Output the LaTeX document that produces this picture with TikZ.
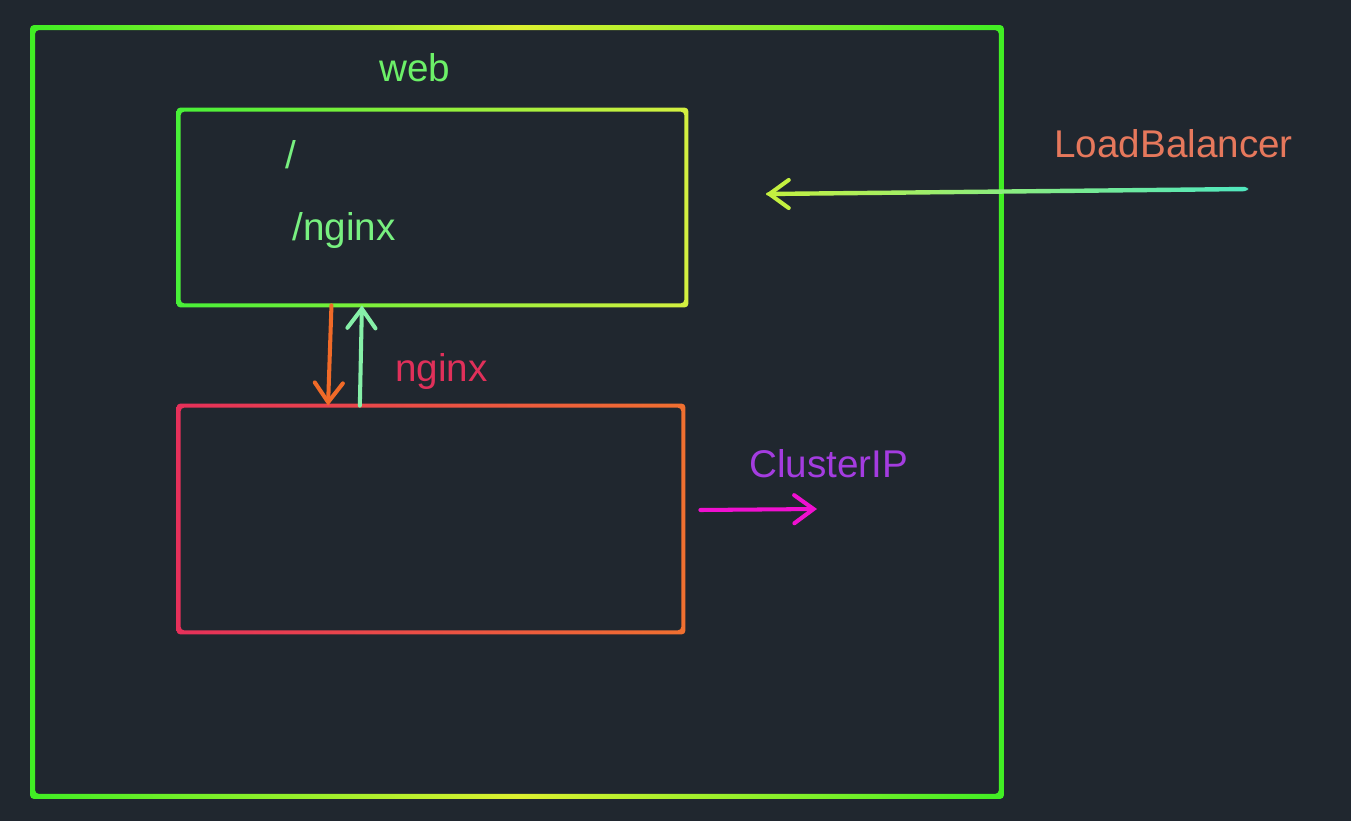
\documentclass[tikz,border=0pt]{standalone}
\usepackage{fontspec}
\setmainfont{Liberation Sans}
\usetikzlibrary{arrows.meta,calc,fit}

\definecolor{bg}{HTML}{20272F}
\definecolor{webgreen}{HTML}{40EE24}
\definecolor{webyellow}{HTML}{DDF030}
\definecolor{ingleft}{HTML}{48F038}
\definecolor{ingright}{HTML}{D4F040}
\definecolor{podleft}{HTML}{E6305A}
\definecolor{podright}{HTML}{F07030}
\definecolor{textgreen}{HTML}{78F080}
\definecolor{webtext}{HTML}{6CF068}
\definecolor{reqcol}{HTML}{F06A28}
\definecolor{respcol}{HTML}{86F0A8}
\definecolor{svccol}{HTML}{E0305A}
\definecolor{cipcol}{HTML}{A43CE0}
\definecolor{cipflow}{HTML}{F010D0}
\definecolor{lbcol}{HTML}{E6785C}
\definecolor{lbleft}{HTML}{C4F040}
\definecolor{lbright}{HTML}{50E8C0}

% gradient outline round a named node
\newcommand{\glowring}[5]{%
  \shade[even odd rule, rounded corners=2pt, left color=#3, right color=#5, middle color=#4]
    ($(#1.north west)+(-#2,-#2)$) rectangle ($(#1.south east)+(#2,#2)$)
    ($(#1.north west)+(#2,#2)$) rectangle ($(#1.south east)+(-#2,-#2)$);}

\begin{document}
\begin{tikzpicture}[x=0.02cm, y=-0.02cm,
    lbl/.style={anchor=base west, inner sep=0pt, font=\fontsize{22}{26}\selectfont},
    flow/.style={line width=2.3pt, line cap=round,
      -{Straight Barb[length=11pt,width=16pt,line cap=round]}}]
  \fill[bg] (0,0) rectangle (1351,821);
  \useasboundingbox (0,0) rectangle (1351,821);

  % boxes
  \node[fit={(33,28) (1001,796)}, inner sep=0pt] (web) {};
  \node[fit={(179,110) (686,305)}, inner sep=0pt] (ingress) {};
  \node[fit={(179,406) (683,632)}, inner sep=0pt] (pod) {};
  \glowring{web}{2.5}{webgreen}{webyellow}{webgreen}
  \glowring{ingress}{2}{ingleft}{ingleft!50!ingright}{ingright}
  \glowring{pod}{2}{podleft}{podleft!50!podright}{podright}

  % labels
  \node[lbl, webtext] (webname) at (379,82) {web};
  \node[lbl, textgreen] (root) at (285,168) {/};
  \node[lbl, textgreen] (path) at (292,240) {/nginx};
  \node[lbl, svccol] (svc) at (395,381) {nginx};
  \node[lbl, cipcol] (cip) at (749,477) {ClusterIP};
  \node[lbl, lbcol] (lb) at (1054,157) {LoadBalancer};

  % ingress <-> service
  \draw[flow, reqcol] ($(ingress.south west)!0.301!(ingress.south east)$)
    -- ($(pod.north west)!0.296!(pod.north east)$);
  \draw[flow, respcol] ($(pod.north west)!0.359!(pod.north east)$)
    -- ($(ingress.south west)!0.361!(ingress.south east)$);

  % cluster ip
  \coordinate (cipstart) at ([shift={(17,-9)}]pod.east);
  \coordinate (cipend) at (817,509);
  \draw[flow, cipflow] (cipstart) -- (cipend);

  % load balancer
  \coordinate (lbtail) at (1248,189);
  \coordinate (lbhead) at (766,194);
  \shade[left color=lbleft, right color=lbright, rounded corners=2]
    ($(lbhead)+(0,-2.2)$) -- ($(lbtail)+(0,-2.2)$) -- ($(lbtail)+(0,2.2)$)
    -- ($(lbhead)+(0,2.2)$) -- cycle;
  \draw[flow, lbleft] ($(lbhead)+(6,0)$) -- (lbhead);
\end{tikzpicture}
\end{document}
